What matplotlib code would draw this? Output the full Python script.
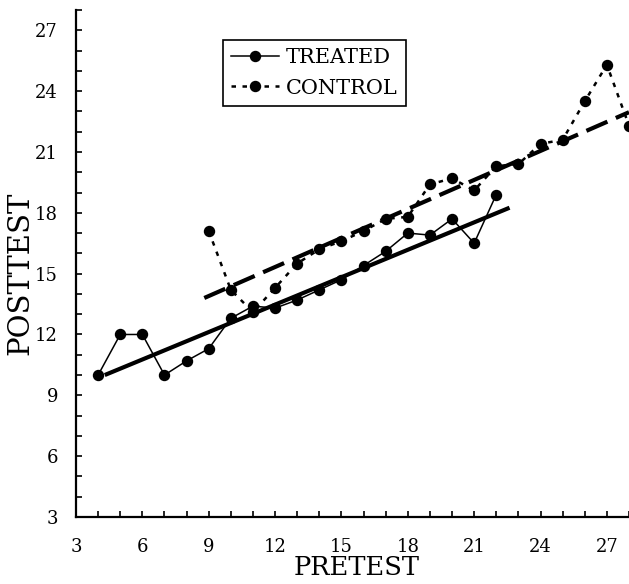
import numpy as np
import matplotlib
matplotlib.use("Agg")
import matplotlib.pyplot as plt
from matplotlib.ticker import MultipleLocator

plt.rcParams["font.family"] = ["DejaVu Serif"]

# pretest score -> mean posttest score
treated_x = [4, 5, 6, 7, 8, 9, 10, 11, 12, 13, 14, 15, 16, 17, 18, 19, 20, 21, 22]
treated_y = [10.0, 12.0, 12.0, 10.0, 10.7, 11.3, 12.8, 13.4, 13.3, 13.7, 14.2,
             14.7, 15.4, 16.1, 17.0, 16.9, 17.7, 16.5, 18.9]

control_x = [9, 10, 11, 12, 13, 14, 15, 16, 17, 18, 19, 20, 21, 22, 23, 24,
             25, 26, 27, 28]
control_y = [17.1, 14.2, 13.1, 14.3, 15.5, 16.2, 16.6, 17.1, 17.7, 17.8, 19.4,
             19.7, 19.1, 20.3, 20.4, 21.4, 21.6, 23.5, 25.3, 22.3]

# fitted regression lines (end points)
treated_fit_x = [4.3, 22.6]
treated_fit_y = [10.0, 18.25]
control_fit_x = [8.8, 28.0]
control_fit_y = [13.8, 22.96]

tick_values = [3, 6, 9, 12, 15, 18, 21, 24, 27]


fig = plt.figure(figsize=(6.29, 5.84), dpi=100)
ax = fig.add_axes([76 / 629, 67 / 584, 553 / 629, 507 / 584])

ax.plot(treated_x, treated_y, color="black", linewidth=1.1, marker="o",
        markersize=7.2, label="TREATED")
ax.plot(control_x, control_y, color="black", linewidth=1.8,
        linestyle=(0, (1.8, 2.6)), marker="o", markersize=7.2, label="CONTROL")

ax.plot(treated_fit_x, treated_fit_y, color="black", linewidth=3.0,
        solid_capstyle="butt")
ax.plot(control_fit_x, control_fit_y, color="black", linewidth=3.0,
        linestyle=(0, (5.5, 2.2)), dash_capstyle="butt")

ax.set_xlim(3, 28)
ax.set_ylim(3, 28)
ax.set_xticks(tick_values)
ax.set_yticks(tick_values)
ax.xaxis.set_minor_locator(MultipleLocator(1))
ax.yaxis.set_minor_locator(MultipleLocator(1))
ax.tick_params(which="both", direction="in", length=4, width=1.2,
               labelsize=13)
ax.tick_params(axis="x", pad=15)
ax.tick_params(axis="y", pad=13)

for side in ["top", "right"]:
    ax.spines[side].set_visible(False)
for side in ["left", "bottom"]:
    ax.spines[side].set_linewidth(1.6)

ax.set_xlabel("PRETEST", fontsize=18.5)
ax.xaxis.set_label_coords(0.508, -0.10)
ax.xaxis.label.set_va("center")
ax.set_ylabel("POSTTEST", fontsize=21)
ax.yaxis.set_label_coords(-0.101, 0.48)
ax.yaxis.label.set_va("center")

leg = ax.legend(loc="upper left", bbox_to_anchor=(0.266, 0.941),
                borderaxespad=0, fancybox=False, framealpha=1,
                edgecolor="black", fontsize=15, handlelength=2.3,
                handletextpad=0.3, borderpad=0.4, labelspacing=0.55)
leg.get_frame().set_linewidth(1.2)

fig.savefig("out.png", dpi=100)
